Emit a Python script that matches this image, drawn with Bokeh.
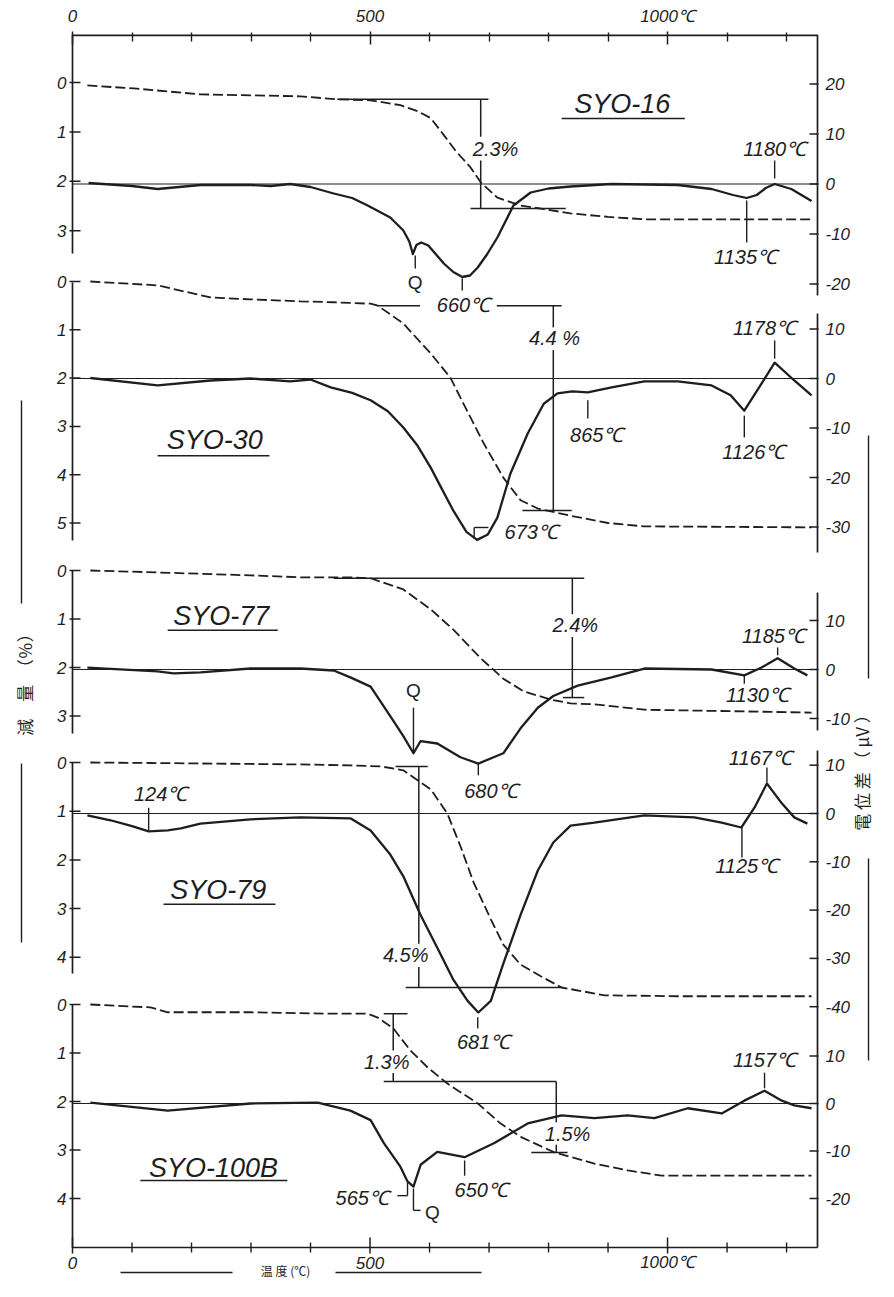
from bokeh.plotting import figure
from bokeh.models import Range1d, LinearAxis, FixedTicker
from bokeh.core.properties import value
from bokeh.embed import file_html
from bokeh.resources import INLINE

INK = "#1e1e1e"
NUM_FONT = "Liberation Sans"
CJK_FONT = "Noto Sans CJK JP"

# ---------------- data ----------------
x_major = [0, 500, 1000]
x_minor = [100, 200, 300, 400, 600, 700, 800, 900, 1100, 1200]
x_labels = ["0", "500", "1000℃"]
T_END = 1252

names = ["SYO-16", "SYO-30", "SYO-77", "SYO-79", "SYO-100B"]
tg_ticks = [[0, 1, 2, 3], [0, 1, 2, 3, 4, 5], [0, 1, 2, 3], [0, 1, 2, 3, 4], [0, 1, 2, 3, 4]]
dta_ticks = [[20, 10, 0, -10, -20], [10, 0, -10, -20, -30], [10, 0, -10],
             [10, 0, -10, -20, -30, -40], [10, 0, -10, -20]]

# SYO-16  (TG: weight loss %, DTA: microvolt)
s16_tg_T = [25, 103, 215, 300, 383, 445, 501, 551, 580, 602, 625, 645, 669, 686, 714, 753, 790, 837, 900, 961, 1242]
s16_tg = [0.06, 0.12, 0.24, 0.26, 0.28, 0.34, 0.36, 0.46, 0.58, 0.72, 1.08, 1.40, 1.72, 2.02, 2.33, 2.49, 2.56, 2.65, 2.72, 2.77, 2.77]
s16_dta_T = [27, 100, 143, 215, 299, 333, 366, 400, 439, 470, 496, 534, 556, 566, 572, 578, 586, 598, 624, 640, 655,
             668, 681, 697, 714, 741, 770, 800, 837, 906, 1017, 1074, 1110, 1133, 1150, 1165, 1180, 1208, 1242]
s16_dta = [0.2, -0.4, -1.0, -0.2, -0.2, -0.4, 0.0, -0.6, -1.9, -2.8, -4.3, -6.7, -9.3, -11.5, -14.0, -12.2, -11.7, -12.3,
           -15.9, -17.6, -18.6, -18.3, -16.7, -14.0, -10.7, -4.3, -1.7, -0.9, -0.5, 0.0, -0.2, -1.0, -2.2, -2.8, -2.2,
           -0.8, 0.0, -1.0, -3.4]

# SYO-30
s30_tg_T = [30, 143, 232, 299, 383, 439, 501, 513, 556, 602, 635, 657, 691, 724, 753, 782, 837, 900, 960, 1242]
s30_tg = [0.0, 0.08, 0.33, 0.37, 0.41, 0.43, 0.46, 0.50, 0.87, 1.49, 1.99, 2.53, 3.35, 4.06, 4.53, 4.70, 4.85, 5.00, 5.07, 5.09]
s30_dta_T = [30, 143, 232, 299, 366, 400, 434, 470, 501, 530, 556, 580, 602, 622, 640, 662, 680, 698, 714, 736, 765,
             792, 815, 840, 866, 906, 961, 1017, 1074, 1106, 1129, 1155, 1180, 1213, 1242]
s30_dta = [0.1, -1.4, -0.4, 0.0, -0.6, -0.2, -1.8, -2.9, -4.4, -6.6, -9.9, -13.6, -18.0, -22.6, -26.7, -31.0, -32.6,
           -31.5, -28.1, -19.2, -11.1, -5.1, -3.0, -2.6, -2.8, -1.8, -0.6, -0.6, -1.4, -3.4, -6.5, -1.6, 3.2, -0.4, -3.4]

# SYO-77
s77_tg_T = [30, 143, 299, 383, 467, 501, 556, 602, 640, 686, 724, 758, 803, 837, 877, 961, 1242]
s77_tg = [0.0, 0.04, 0.10, 0.14, 0.14, 0.16, 0.39, 0.80, 1.22, 1.81, 2.23, 2.49, 2.66, 2.74, 2.76, 2.87, 2.93]
s77_dta_T = [25, 143, 170, 215, 299, 383, 439, 467, 501, 534, 556, 573, 585, 613, 652, 682, 724, 753, 782, 808, 849,
             906, 961, 1074, 1129, 1158, 1185, 1213, 1235]
s77_dta = [0.4, -0.4, -0.8, -0.6, 0.2, 0.2, -0.2, -1.6, -3.5, -9.5, -13.6, -17.1, -14.6, -15.1, -17.9, -19.2, -17.1,
           -12.0, -7.8, -5.4, -3.3, -1.6, 0.2, 0.0, -1.2, 0.4, 2.3, 0.2, -1.2]

# SYO-79
s79_tg_T = [30, 131, 215, 299, 383, 467, 518, 556, 602, 630, 652, 674, 703, 724, 753, 787, 822, 894, 1017, 1242]
s79_tg = [0.0, 0.01, 0.02, 0.03, 0.04, 0.06, 0.08, 0.16, 0.55, 1.05, 1.72, 2.46, 3.22, 3.74, 4.15, 4.39, 4.62, 4.78, 4.80, 4.80]
s79_dta_T = [25, 64, 100, 128, 160, 182, 215, 299, 383, 467, 501, 534, 556, 585, 613, 640, 664, 682, 703, 724, 753,
             782, 808, 837, 877, 961, 1045, 1091, 1124, 1146, 1167, 1192, 1213, 1235]
s79_dta = [-0.4, -1.4, -2.6, -3.7, -3.5, -3.1, -2.1, -1.2, -0.8, -1.0, -3.5, -8.5, -13.0, -21.0, -27.8, -34.4, -38.8,
           -41.2, -38.8, -31.1, -21.0, -11.8, -6.0, -2.5, -1.9, -0.4, -0.8, -1.9, -2.9, 1.2, 6.2, 2.1, -0.8, -2.1]

# SYO-100B
s100_tg_T = [30, 131, 160, 299, 439, 496, 513, 539, 568, 597, 630, 681, 719, 755, 810, 877, 933, 990, 1242]
s100_tg = [0.0, 0.06, 0.16, 0.16, 0.19, 0.19, 0.27, 0.49, 0.95, 1.30, 1.63, 2.04, 2.45, 2.74, 3.05, 3.28, 3.42, 3.53, 3.53]
s100_dta_T = [30, 160, 299, 412, 467, 501, 523, 551, 563, 573, 585, 613, 659, 709, 765, 822, 877, 933, 978, 1034,
              1091, 1129, 1163, 1192, 1213, 1242]
s100_dta = [0.2, -1.5, 0.0, 0.2, -1.5, -3.5, -8.3, -13.3, -16.4, -17.5, -12.9, -10.2, -11.3, -8.3, -4.2, -2.5, -3.1,
            -2.5, -3.1, -1.0, -2.1, 0.6, 2.7, 0.6, -0.4, -1.0]

curves = [(s16_tg_T, s16_tg, s16_dta_T, s16_dta),
          (s30_tg_T, s30_tg, s30_dta_T, s30_dta),
          (s77_tg_T, s77_tg, s77_dta_T, s77_dta),
          (s79_tg_T, s79_tg, s79_dta_T, s79_dta),
          (s100_tg_T, s100_tg, s100_dta_T, s100_dta)]

# peak labels (temperature, DTA value) and their leader ticks
peak_text = [["1180℃", "1135℃", "660℃", "Q"],
             ["865℃", "1126℃", "1178℃", "673℃"],
             ["680℃", "1130℃", "1185℃", "Q"],
             ["124℃", "681℃", "1125℃", "1167℃"],
             ["565℃", "650℃", "1157℃", "Q"]]
peak_T = [[1180, 1131, 657, 576], [881, 1145, 1163, 771], [703, 1151, 1178, 573],
          [148, 691, 1133, 1156], [487, 687, 1163, 605]]
peak_v = [[7.1, -14.5, -24.1, -19.7], [-11.5, -14.9, 10.3, -31.1], [-24.7, -5.3, 6.9, -4.3],
          [4.1, -47.4, -10.8, 11.4], [-19.8, -18.3, 9.1, -22.9]]
lead = [[(1180, 4.7, 1180, 1.1), (1133, -3.3, 1133, -11.7), (576, -14.3, 576, -16.9), (655, -18.9, 655, -21.3)],
        [(866, -4.4, 866, -8.1), (1129, -7.5, 1129, -11.9), (1180, 7.7, 1180, 4.0), (675, -32.3, 675, -30.1),
         (675, -30.1, 699, -30.1)],
        [(573, -7.8, 573, -16.9), (682, -19.2, 682, -21.6), (1129, -1.2, 1129, -2.9), (1185, 4.5, 1185, 2.9)],
        [(128, 1.2, 128, -3.5), (681, -42.2, 681, -44.5), (1125, -2.9, 1125, -9.1), (1167, 9.5, 1167, 6.4)],
        [(546, -19.4, 563, -19.4), (563, -19.4, 563, -16.6), (573, -17.9, 573, -22.5), (573, -22.5, 585, -22.5),
         (659, -12.0, 659, -15.2), (1163, 6.5, 1163, 3.2)]]

# sample names (temperature, DTA value) with underline span
name_T = [924, 239, 250, 245, 237]
name_v = [16.1, -12.5, 11.0, -15.9, -13.5]
under_T = [(822, 1029), (143, 331), (160, 345), (153, 341), (114, 361)]
under_v = [13.1, -15.6, 8.0, -18.8, -16.2]

# weight-loss brackets (temperature, TG %)
loss_text = [["2.3%"], ["4.4 %"], ["2.4%"], ["4.5%"], ["1.3%", "1.5%"]]
loss_T = [[711], [810], [845], [560], [528, 832]]
loss_v = [[1.34], [1.18], [1.13], [3.96], [1.18, 2.66]]
brackets = [[(445, 0.34, 699, 0.34), (686, 0.34, 686, 1.10), (686, 1.58, 686, 2.55), (669, 2.55, 829, 2.55)],
            [(513, 0.50, 584, 0.50), (713, 0.50, 822, 0.50), (808, 0.50, 808, 0.95), (808, 1.42, 808, 4.74),
             (756, 4.74, 839, 4.74)],
            [(439, 0.16, 860, 0.16), (840, 0.16, 840, 0.90), (840, 1.37, 840, 2.62), (824, 2.62, 860, 2.62)],
            [(543, 0.08, 597, 0.08), (582, 0.08, 582, 3.72), (582, 4.20, 582, 4.62), (560, 4.62, 822, 4.62)],
            [(523, 0.19, 563, 0.19), (539, 0.19, 539, 0.95), (539, 1.41, 539, 1.59), (523, 1.59, 813, 1.59),
             (813, 1.59, 813, 2.43), (813, 2.89, 813, 3.05), (771, 3.05, 832, 3.05)]]

# axis titles
title_left = "減　量　（％）"
title_right = "電 位 差 （ μV ）"
title_bottom = "温 度 (℃)"

# ---------------- layout (picture pixel positions; not data) ----------------
W, H = 878, 1281
FRAME_TOP, FRAME_BOT = 34, H            # plot frame rows (top axis is a real axis above it)
AXIS_BOT = 1247                         # row of the bottom temperature axis
AX_LEFT, AX_RIGHT = 72, 817             # columns of T=0 and T=T_END
PX = (AX_RIGHT - AX_LEFT) / T_END       # pixels per degree
X0 = -AX_LEFT / PX
X1 = T_END + (W - AX_RIGHT) / PX


def cx(x):
    """picture column -> temperature coordinate"""
    return (x - AX_LEFT) / PX


layout = [
    dict(tg0=82, tgk=49.4, dta0=183.5, dtak=5.0, left=(34, 253), right=(34, 295)),
    dict(tg0=281, tgk=48.3, dta0=378, dtak=4.95, left=(282, 540), right=(313, 552)),
    dict(tg0=570, tgk=48.5, dta0=669, dtak=4.9, left=(570, 733), right=(592, 730)),
    dict(tg0=762, tgk=48.7, dta0=813, dtak=4.83, left=(762, 973), right=(750, AXIS_BOT)),
    dict(tg0=1004, tgk=48.5, dta0=1103, dtak=4.75, left=(1004, AXIS_BOT), right=(750, AXIS_BOT)),
]

p = figure(width=W, height=H, x_range=Range1d(X0, X1), y_range=Range1d(FRAME_BOT, FRAME_TOP),
           x_axis_type=None, y_axis_type=None, output_backend="svg", toolbar_location=None,
           min_border_left=0, min_border_right=0, min_border_top=FRAME_TOP, min_border_bottom=0)
p.outline_line_color = None
p.background_fill_color = "white"
p.border_fill_color = "white"

ranges = {}
for i, L in enumerate(layout):
    ranges[f"tg{i}"] = Range1d((FRAME_BOT - L["tg0"]) / L["tgk"], (FRAME_TOP - L["tg0"]) / L["tgk"])
    ranges[f"dta{i}"] = Range1d((L["dta0"] - FRAME_BOT) / L["dtak"], (L["dta0"] - FRAME_TOP) / L["dtak"])
p.extra_y_ranges = ranges

# top temperature axis (real axis; its line is drawn only over 0..T_END)
top = LinearAxis(ticker=FixedTicker(ticks=x_major, minor_ticks=x_minor),
                 major_label_overrides={t: s for t, s in zip(x_major, x_labels)})
top.major_label_text_font = NUM_FONT
top.major_label_text_font_style = "italic"
top.major_label_text_font_size = "17px"
top.major_label_text_color = INK
top.axis_line_color = None
top.major_tick_line_color = INK
top.minor_tick_line_color = INK
top.major_tick_line_width = 1.5
top.minor_tick_line_width = 1.4
top.major_tick_in, top.major_tick_out = 10, 3
top.minor_tick_in, top.minor_tick_out = 7, 2
top.major_label_standoff = 6
p.add_layout(top, "above")

# bottom temperature axis at row AXIS_BOT
p.segment(x0=[0, 0], y0=[FRAME_TOP, AXIS_BOT], x1=[T_END, T_END], y1=[FRAME_TOP, AXIS_BOT],
          line_color=INK, line_width=[3.4, 1.7])
p.segment(x0=x_major, y0=[AXIS_BOT - 10] * 3, x1=x_major, y1=[AXIS_BOT + 6] * 3, line_color=INK, line_width=1.5)
p.segment(x0=x_minor, y0=[AXIS_BOT - 5] * len(x_minor), x1=x_minor, y1=[AXIS_BOT + 5] * len(x_minor),
          line_color=INK, line_width=1.4)
p.text(x=x_major, y=[AXIS_BOT + 15] * 3, text=x_labels, text_font=value(NUM_FONT), text_font_style="italic",
       text_font_size="17px", text_align="center", text_baseline="middle", text_color=INK)

# per-panel vertical axis lines (rows)
ls = sorted({L["left"] for L in layout})
rs = sorted({L["right"] for L in layout})
p.segment(x0=[0] * len(ls), y0=[a for a, b in ls], x1=[0] * len(ls), y1=[b for a, b in ls],
          line_color=INK, line_width=1.7)
p.segment(x0=[T_END] * len(rs), y0=[a for a, b in rs], x1=[T_END] * len(rs), y1=[b for a, b in rs],
          line_color=INK, line_width=1.7)

for i, (tgT, tg, dT, d) in enumerate(curves):
    dn, tn = f"dta{i}", f"tg{i}"
    tv = tg_ticks[i]
    p.segment(x0=[-3 / PX] * len(tv), y0=tv, x1=[8 / PX] * len(tv), y1=tv, y_range_name=tn,
              line_color=INK, line_width=1.5)
    p.text(x=[-6 / PX] * len(tv), y=tv, text=[str(v) for v in tv], y_range_name=tn,
           text_font=value(NUM_FONT), text_font_style="italic", text_font_size="17px",
           text_align="right", text_baseline="middle", text_color=INK)
    dv = dta_ticks[i]
    p.segment(x0=[T_END - 8 / PX] * len(dv), y0=dv, x1=[T_END + 1 / PX] * len(dv), y1=dv, y_range_name=dn,
              line_color=INK, line_width=1.5)
    p.text(x=[T_END + 8 / PX] * len(dv), y=dv, text=[str(v) for v in dv], y_range_name=dn,
           text_font=value(NUM_FONT), text_font_style="italic", text_font_size="17px",
           text_align="left", text_baseline="middle", text_color=INK)

    p.line([0, T_END], [0, 0], y_range_name=dn, line_color=INK, line_width=1.2)
    p.line(dT, d, y_range_name=dn, line_color=INK, line_width=2.3, line_join="round")
    p.line(tgT, tg, y_range_name=tn, line_color=INK, line_width=1.8, line_dash="10 4")
    b = brackets[i]
    p.segment(x0=[s[0] for s in b], y0=[s[1] for s in b], x1=[s[2] for s in b], y1=[s[3] for s in b],
              y_range_name=tn, line_color=INK, line_width=1.5)
    p.text(x=loss_T[i], y=loss_v[i], text=loss_text[i], y_range_name=tn,
           text_font=value(NUM_FONT), text_font_style="italic", text_font_size="20px",
           text_align="center", text_baseline="middle", text_color=INK)
    ld = lead[i]
    p.segment(x0=[s[0] for s in ld], y0=[s[1] for s in ld], x1=[s[2] for s in ld], y1=[s[3] for s in ld],
              y_range_name=dn, line_color=INK, line_width=1.4)
    txt = peak_text[i]
    it = [k for k, t in enumerate(txt) if t != "Q"]
    q = [k for k, t in enumerate(txt) if t == "Q"]
    p.text(x=[peak_T[i][k] for k in it], y=[peak_v[i][k] for k in it], text=[txt[k] for k in it],
           y_range_name=dn, text_font=value(NUM_FONT), text_font_style="italic", text_font_size="20px",
           text_align="center", text_baseline="middle", text_color=INK)
    if q:
        p.text(x=[peak_T[i][k] for k in q], y=[peak_v[i][k] for k in q], text=["Q" for k in q],
               y_range_name=dn, text_font=value(NUM_FONT), text_font_size="19px",
               text_align="center", text_baseline="middle", text_color=INK)
    p.text(x=[name_T[i]], y=[name_v[i]], text=[names[i]], y_range_name=dn,
           text_font=value(NUM_FONT), text_font_style="italic", text_font_size="27px",
           text_align="center", text_baseline="middle", text_color=INK)
    p.segment(x0=[under_T[i][0]], y0=[under_v[i]], x1=[under_T[i][1]], y1=[under_v[i]],
              y_range_name=dn, line_color=INK, line_width=1.6)

# axis titles with their rule lines (rows/columns)
p.text(x=[cx(24), cx(861)], y=[680, 768], text=[title_left, title_right], angle=1.5708,
       text_font=value(CJK_FONT), text_font_size="17px", text_align="center", text_baseline="middle",
       text_color=INK)
p.text(x=[cx(285)], y=[1270], text=[title_bottom], text_font=value(CJK_FONT), text_font_size="12px",
       text_align="center", text_baseline="middle", text_color=INK)
rx = [cx(21), cx(21), cx(868), cx(868), cx(120), cx(335)]
rx2 = [cx(21), cx(21), cx(868), cx(868), cx(232), cx(481)]
p.segment(x0=rx, y0=[400, 763, 435, 858, 1272, 1272], x1=rx2, y1=[603, 942, 678, 1060, 1272, 1272],
          line_color=INK, line_width=1.4)

open("out.html", "w").write(file_html(p, INLINE))
